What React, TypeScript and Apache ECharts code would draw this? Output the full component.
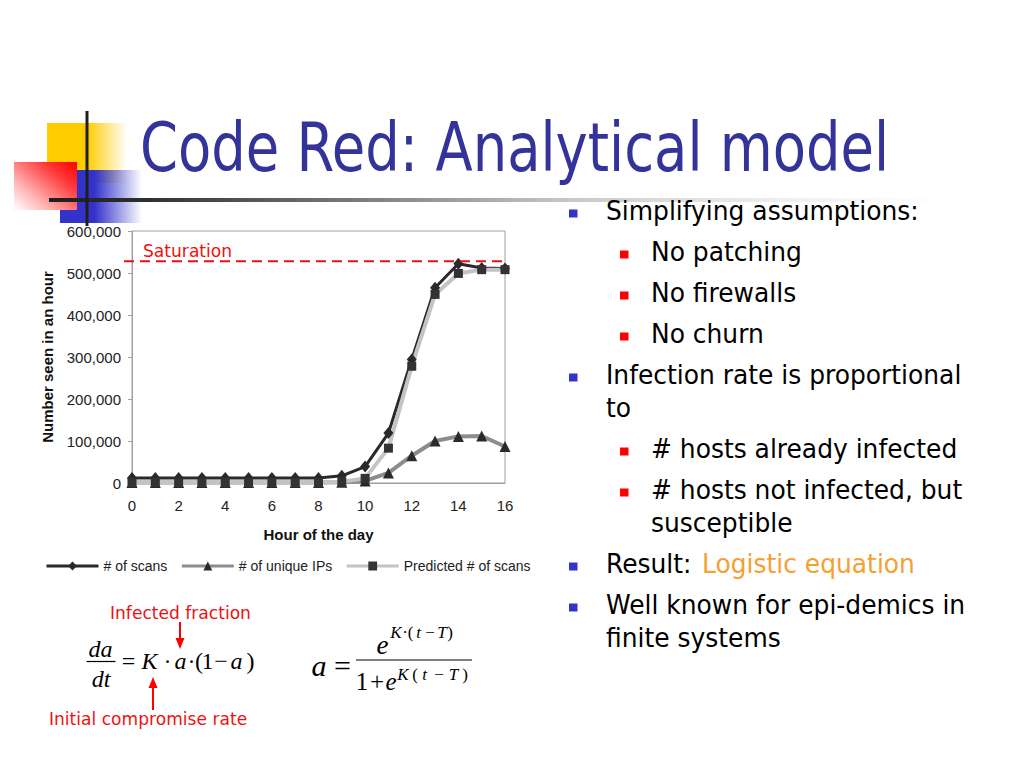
import React, { useEffect, useRef } from "react";
import * as echarts from "echarts";

// ---------- data ----------
const hours = [0, 1, 2, 3, 4, 5, 6, 7, 8, 9, 10, 11, 12, 13, 14, 15, 16];
const scans = [12000, 12000, 12000, 12000, 12000, 12000, 12000, 12000, 12000, 17000, 39000, 119000, 294000, 465000, 522000, 512000, 511000];
const uniqueIPs = [1000, 1000, 1000, 1000, 1000, 1000, 1000, 1000, 1000, 1500, 5000, 24000, 65000, 100000, 111000, 112000, 87000];
const predicted = [1000, 1000, 1000, 1000, 1000, 1000, 1000, 1000, 1000, 3000, 11000, 83000, 278000, 449000, 499000, 508000, 508000];
const saturation = 528000;
const seriesNames = ["# of scans", "# of unique IPs", "Predicted # of scans"];
const xAxisName = "Hour of the day";
const yAxisName = "Number seen in an hour";

const titleText = "Code Red: Analytical model";
const bullets = [
  { level: 1, lines: ["Simplifying assumptions:"] },
  { level: 2, lines: ["No patching"] },
  { level: 2, lines: ["No firewalls"] },
  { level: 2, lines: ["No churn"] },
  { level: 1, lines: ["Infection rate is proportional", "to"] },
  { level: 2, lines: ["# hosts already infected"] },
  { level: 2, lines: ["# hosts not infected, but", "susceptible"] },
  { level: 1, lines: ["Result: "], highlight: "Logistic equation" },
  { level: 1, lines: ["Well known for epi-demics in", "finite systems"] },
];

// ---------- styling helpers ----------
const SANS = "DejaVu Sans";
const ARIAL = "Liberation Sans";
const SERIF = "Liberation Serif";
const RED = "#EE1111";

type TOpt = {
  t: string; x: number; y: number; size: number; color?: string; italic?: boolean;
  family?: string; align?: string; sx?: number; weight?: string;
};
const txt = (o: TOpt) => ({
  type: "text",
  x: o.x,
  y: o.y,
  scaleX: o.sx ?? 1,
  silent: true,
  style: {
    text: o.t,
    fill: o.color ?? "#000",
    fontSize: o.size,
    fontFamily: o.family ?? SANS,
    fontStyle: o.italic ? "italic" : "normal",
    fontWeight: o.weight ?? "normal",
    align: o.align ?? "left",
    verticalAlign: "middle",
  },
});

const lin = (c: [number, number, number, number], stops: [number, string][]) =>
  new echarts.graphic.LinearGradient(c[0], c[1], c[2], c[3], stops.map(([offset, color]) => ({ offset, color })));

function buildGraphics(satY: number | null) {
  const g: any[] = [];
  // logo
  g.push({ type: "rect", silent: true, shape: { x: 47, y: 123, width: 80, height: 60 },
    style: { fill: lin([0, 0, 1, 0], [[0, "#FFCC00"], [0.5, "#FFCC00"], [1, "rgba(255,204,0,0)"]]) } });
  g.push({ type: "rect", silent: true, shape: { x: 60, y: 170, width: 82, height: 53 },
    style: { fill: lin([0, 0, 1, 0], [[0, "#3333CC"], [0.42, "#3333CC"], [1, "rgba(51,51,204,0)"]]) } });
  g.push({ type: "rect", silent: true, shape: { x: 14, y: 162, width: 63, height: 48 },
    style: { fill: lin([1, 0, 0, 0.9], [[0, "#FF0000"], [0.3, "#FF3a3a"], [0.75, "#FFb8b8"], [1, "#FFF4F4"]]) } });
  g.push({ type: "rect", silent: true, shape: { x: 49, y: 198, width: 911, height: 4 },
    style: { fill: lin([0, 0, 1, 0], [[0, "#1e1e1e"], [0.1, "#2e2e2e"], [0.56, "#c4c4c4"], [1, "rgba(235,235,235,0)"]]) } });
  g.push({ type: "rect", silent: true, shape: { x: 85.5, y: 111, width: 3, height: 115 }, style: { fill: "#1e1e1e" } });

  // title
  g.push(txt({ t: titleText, x: 140, y: 148, size: 68, color: "#333399", sx: 0.8 }));

  // bullets
  let y = 210.5;
  bullets.forEach((b) => {
    const tx = b.level === 1 ? 606 : 651;
    const bx = b.level === 1 ? 569 : 620;
    g.push({ type: "rect", silent: true, shape: { x: bx, y: y - 1, width: 8.5, height: 8 },
      style: { fill: b.level === 1 ? "#3333CC" : "#FF0000" } });
    b.lines.forEach((line, i) => {
      g.push(txt({ t: line, x: tx, y: y + i * 33, size: 26, sx: 0.96 }));
      if (i === 0 && b.highlight) {
        g.push(txt({ t: b.highlight, x: 702, y, size: 26, sx: 0.96, color: "#F5A033" }));
      }
    });
    y += 41 + (b.lines.length - 1) * 33;
  });

  // chart annotation
  g.push(txt({ t: "Saturation", x: 143, y: 251, size: 18, color: RED, sx: 0.95 }));
  if (satY !== null) {
    g.push({ type: "line", silent: true, z: 10, shape: { x1: 124, y1: satY, x2: 508, y2: satY },
      style: { stroke: "#E8101A", lineWidth: 2, lineDash: [10, 6] } });
  }

  // formula labels and arrows
  g.push(txt({ t: "Infected fraction", x: 110, y: 613, size: 18, color: RED, sx: 0.95 }));
  g.push(txt({ t: "Initial compromise rate", x: 49, y: 719, size: 18, color: RED, sx: 0.95 }));
  g.push({ type: "line", silent: true, shape: { x1: 180, y1: 622, x2: 180, y2: 640 }, style: { stroke: "#FF0000", lineWidth: 2 } });
  g.push({ type: "polygon", silent: true, shape: { points: [[175.5, 638], [184.5, 638], [180, 649]] }, style: { fill: "#FF0000" } });
  g.push({ type: "line", silent: true, shape: { x1: 153, y1: 686, x2: 153, y2: 710 }, style: { stroke: "#FF0000", lineWidth: 2 } });
  g.push({ type: "polygon", silent: true, shape: { points: [[148.5, 688], [157.5, 688], [153, 677]] }, style: { fill: "#FF0000" } });

  // formula 1: da/dt = K·a·(1−a)
  const m = (t: string, x: number, yy: number, size: number, italic = false) =>
    txt({ t, x, y: yy, size, italic, family: SERIF, align: "center" });
  g.push(m("da", 100.5, 648.5, 24, true));
  g.push({ type: "line", silent: true, shape: { x1: 86.5, y1: 661.5, x2: 115.5, y2: 661.5 }, style: { stroke: "#000", lineWidth: 1.2 } });
  g.push(m("dt", 101, 678.5, 24, true));
  const f1: [string, number, boolean][] = [
    ["=", 128.5, false], ["K", 149.5, true], ["·", 167.5, false], ["a", 180.5, true], ["·", 191.5, false],
    ["(", 199, false], ["1", 207.5, false], ["−", 221, false], ["a", 236.5, true], [")", 250.5, false],
  ];
  f1.forEach(([t, x, it]) => g.push(m(t, x, 661, 24, it)));

  // formula 2: a = e^{K·(t−T)} / (1 + e^{K(t−T)})
  g.push(m("a", 319, 665, 30, true));
  g.push(m("=", 342.5, 665, 30, false));
  g.push({ type: "line", silent: true, shape: { x1: 356, y1: 660, x2: 472, y2: 660 }, style: { stroke: "#000", lineWidth: 1.2 } });
  g.push(m("e", 382.5, 644.5, 27, true));
  const sup1: [string, number, boolean][] = [
    ["K", 396, true], ["·", 405, false], ["(", 410.5, false], ["t", 418.5, true], ["−", 430, false], ["T", 442, true], [")", 450, false],
  ];
  sup1.forEach(([t, x, it]) => g.push(m(t, x, 632.5, 17, it)));
  g.push(m("1", 362, 681, 25, false));
  g.push(m("+", 377, 681, 25, false));
  g.push(m("e", 391, 681, 25, true));
  const sup2: [string, number, boolean][] = [
    ["K", 403, true], ["(", 415, false], ["t", 424.5, true], ["−", 439, false], ["T", 453.5, true], [")", 465, false],
  ];
  sup2.forEach(([t, x, it]) => g.push(m(t, x, 674, 17, it)));
  return g;
}

function buildOption(satY: number | null) {
  const pair = (arr: number[]) => hours.map((h, i) => [h, arr[i]]);
  return {
    animation: false,
    backgroundColor: "#ffffff",
    textStyle: { fontFamily: ARIAL },
    graphic: { elements: buildGraphics(satY) },
    grid: { left: 132, right: 519, top: 231, bottom: 285, show: true, borderColor: "#a0a0a0", borderWidth: 1, containLabel: false },
    legend: {
      left: 45, top: 559, padding: 0, itemWidth: 52, itemHeight: 11, itemGap: 13,
      data: seriesNames,
      lineStyle: { width: 3 },
      textStyle: { fontSize: 14, color: "#222", fontFamily: ARIAL },
      selectedMode: false,
    },
    xAxis: {
      type: "value", min: 0, max: 16, interval: 2,
      name: xAxisName, nameLocation: "middle", nameGap: 44,
      nameTextStyle: { fontSize: 15, fontWeight: "bold", color: "#111", fontFamily: ARIAL },
      axisLine: { show: true, lineStyle: { color: "#a0a0a0" } },
      axisTick: { show: false },
      splitLine: { show: false },
      axisLabel: { fontSize: 15, color: "#222", margin: 15, fontFamily: ARIAL },
    },
    yAxis: {
      type: "value", min: 0, max: 600000, interval: 100000,
      name: yAxisName, nameLocation: "middle", nameGap: 77, nameRotate: 90,
      nameTextStyle: { fontSize: 15, fontWeight: "bold", color: "#111", fontFamily: ARIAL },
      axisLine: { show: true, lineStyle: { color: "#a0a0a0" } },
      axisTick: { show: true, length: 4, lineStyle: { color: "#a0a0a0" } },
      splitLine: { show: false },
      axisLabel: { fontSize: 15, color: "#222", margin: 11, fontFamily: ARIAL,
        formatter: (v: number) => v.toLocaleString("en-US") },
    },
    series: [
      {
        name: seriesNames[0], type: "line", data: pair(scans),
        symbol: "diamond", symbolSize: [10, 12],
        lineStyle: { color: "#2a2a2a", width: 3 },
        itemStyle: { color: "#2a2a2a" },
        emphasis: { disabled: true },
      },
      {
        name: seriesNames[1], type: "line", data: pair(uniqueIPs),
        symbol: "triangle", symbolSize: 11,
        lineStyle: { color: "#8c8c8c", width: 4 },
        itemStyle: { color: "#2a2a2a" },
        emphasis: { disabled: true },
      },
      {
        name: seriesNames[2], type: "line", data: pair(predicted),
        symbol: "rect", symbolSize: 9,
        lineStyle: { color: "#c4c4c4", width: 4 },
        itemStyle: { color: "#333333" },
        emphasis: { disabled: true },
      },
    ],
  };
}

export default function App() {
  const ref = useRef<HTMLDivElement>(null);
  useEffect(() => {
    if (!ref.current) return;
    const chart = echarts.init(ref.current, null, { renderer: "svg" });
    chart.setOption(buildOption(null) as any, true);
    const p = chart.convertToPixel({ gridIndex: 0 }, [0, saturation]) as number[];
    chart.setOption(buildOption(p[1]) as any, true);
    return () => chart.dispose();
  }, []);
  return (
    <div
      ref={ref}
      style={{ position: "fixed", left: 0, top: 0, width: 1024, height: 768, background: "#fff" }}
    />
  );
}
